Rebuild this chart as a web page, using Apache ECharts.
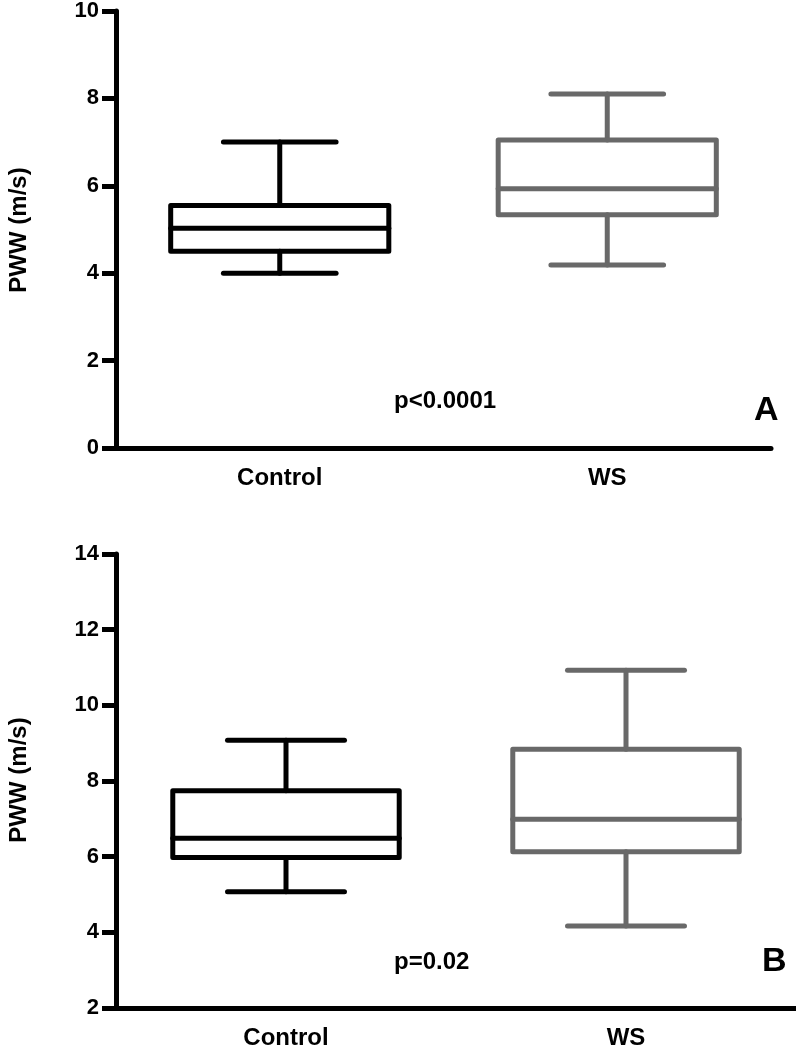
<!DOCTYPE html>
<html><head><meta charset="utf-8">
<script src="https://cdn.jsdelivr.net/npm/echarts@6/dist/echarts.min.js"></script>
<style>html,body{margin:0;padding:0;background:#fff}#c{width:796px;height:1050px}</style>
</head><body><div id="c"></div>
<script>
const categories = ['Control', 'WS'];
// each row: [min, Q1, median, Q3, max]
const panelA = [[4.0, 4.5, 5.03, 5.55, 7.0], [4.19, 5.34, 5.93, 7.05, 8.1]];
const panelB = [[5.07, 5.98, 6.49, 7.74, 9.08], [4.17, 6.13, 6.99, 8.84, 10.93]];
const yAxisA = { min: 0, max: 10, interval: 2 };
const yAxisB = { min: 2, max: 14, interval: 2 };
const yTitle = 'PWW (m/s)';
const pTextA = 'p<0.0001';
const pTextB = 'p=0.02';
const colors = ['#000000', '#696969'];

const FONT = '"Liberation Sans", Arial, sans-serif';

function renderBox(params, api) {
  const ci = api.value(0);
  const v = [api.value(1), api.value(2), api.value(3), api.value(4), api.value(5)];
  const bw = api.size([1, 0])[0];
  const boxHalf = bw * 0.333;
  const capHalf = bw * 0.172;
  const cx = api.coord([ci, v[0]])[0];
  const y = v.map(val => api.coord([ci, val])[1]);
  const color = colors[ci];
  const st = { stroke: color, lineWidth: 5, fill: null, lineCap: 'round', lineJoin: 'round' };
  const line = (x1, y1, x2, y2) => ({ type: 'line', shape: { x1, y1, x2, y2 }, style: st });
  return {
    type: 'group',
    children: [
      line(cx, y[3], cx, y[4]),
      line(cx, y[1], cx, y[0]),
      line(cx - capHalf, y[4], cx + capHalf, y[4]),
      line(cx - capHalf, y[0], cx + capHalf, y[0]),
      { type: 'rect', shape: { x: cx - boxHalf, y: y[3], width: 2 * boxHalf, height: y[1] - y[3] }, style: st },
      line(cx - boxHalf, y[2], cx + boxHalf, y[2])
    ]
  };
}

function xAxis(gi) {
  return {
    type: 'category', gridIndex: gi, data: categories, boundaryGap: true,
    axisLine: { lineStyle: { color: '#000', width: 5 } },
    axisTick: { alignWithLabel: true, length: 14, lineStyle: { color: '#000', width: 5 } },
    axisLabel: { color: '#000', fontSize: 24, fontWeight: 'bold', fontFamily: FONT, margin: 18 },
    splitLine: { show: false }
  };
}
function yAxis(gi, cfg) {
  return {
    type: 'value', gridIndex: gi, min: cfg.min, max: cfg.max, interval: cfg.interval,
    axisLine: { show: true, lineStyle: { color: '#000', width: 5 } },
    axisTick: { show: true, length: 14, lineStyle: { color: '#000', width: 5 } },
    axisLabel: { color: '#000', fontSize: 22, fontWeight: 'bold', fontFamily: FONT, margin: 17 },
    splitLine: { show: false }
  };
}
const txt = (x, y, text, size, extra) => Object.assign({
  type: 'text', x, y,
  style: { text, fill: '#000', font: 'bold ' + size + 'px ' + FONT, align: 'left', verticalAlign: 'middle' }
}, extra || {});

const chart = echarts.init(document.getElementById('c'), null, { renderer: 'canvas' });
chart.setOption({
  animation: false,
  backgroundColor: '#fff',
  grid: [
    { left: 116, top: 10, width: 655, height: 438 },
    { left: 116, top: 554, width: 680, height: 454 }
  ],
  xAxis: [xAxis(0), xAxis(1)],
  yAxis: [yAxis(0, yAxisA), yAxis(1, yAxisB)],
  series: [
    { type: 'custom', xAxisIndex: 0, yAxisIndex: 0, clip: false, renderItem: renderBox,
      encode: { x: 0, y: [1, 2, 3, 4, 5] }, data: panelA.map((r, i) => [i].concat(r)) },
    { type: 'custom', xAxisIndex: 1, yAxisIndex: 1, clip: false, renderItem: renderBox,
      encode: { x: 0, y: [1, 2, 3, 4, 5] }, data: panelB.map((r, i) => [i].concat(r)) }
  ],
  graphic: [
    { type: 'text', x: 19, y: 230, rotation: Math.PI / 2,
      style: { text: yTitle, fill: '#000', font: 'bold 24px ' + FONT, align: 'center', verticalAlign: 'middle' } },
    { type: 'text', x: 19, y: 780, rotation: Math.PI / 2,
      style: { text: yTitle, fill: '#000', font: 'bold 24px ' + FONT, align: 'center', verticalAlign: 'middle' } },
    txt(394, 401, pTextA, 24),
    txt(754, 411, 'A', 34),
    txt(394, 962, pTextB, 24),
    txt(762, 962, 'B', 34)
  ]
});
</script>
</body></html>
